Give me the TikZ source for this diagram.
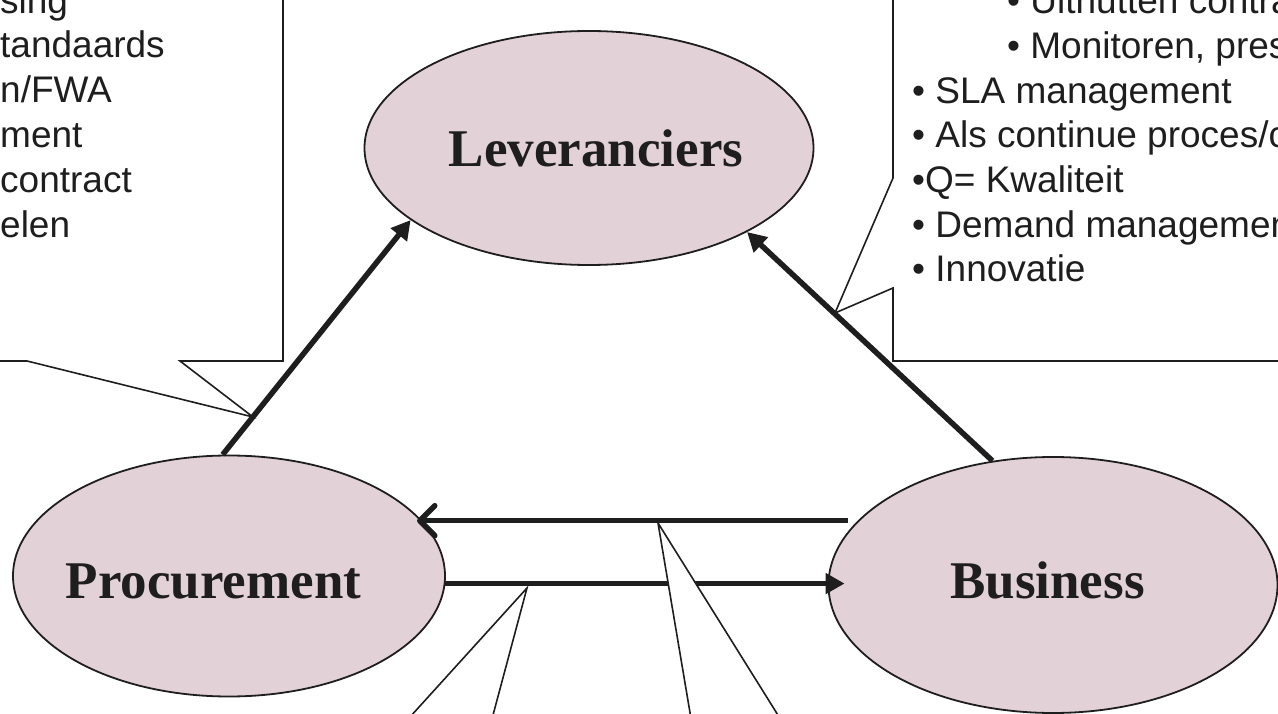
\documentclass[tikz,border=0pt]{standalone}
\usepackage{fontspec}
\setmainfont{Liberation Sans}
\newfontfamily\serifbold{Liberation Serif}
\usetikzlibrary{shapes.geometric,arrows.meta,calc}
\definecolor{ink}{RGB}{30,30,30}
\definecolor{ellfill}{RGB}{227,209,216}
\begin{document}
\begin{tikzpicture}[x=1pt,y=-1pt,
  ell/.style={ellipse, draw=ink, line width=1.8pt, fill=ellfill, inner sep=0pt},
  lbl/.style={font=\serifbold\bfseries\fontsize{53}{60}\selectfont, text=ink, inner sep=0pt, anchor=base},
  arr/.style={draw=ink, line width=5.5pt, -{Triangle[length=19pt,width=20pt]}},
  arrb/.style={draw=ink, line width=5.5pt, -{Straight Barb[length=15pt,width=30pt,round]}},
  callout/.style={draw=ink, fill=white, line width=1.6pt, line join=miter},
  ctext/.style={font=\fontsize{37}{44.7}\selectfont, text=ink, inner sep=0pt, anchor=base west}
]
\useasboundingbox (0,0) rectangle (1278,714);
\clip (0,0) rectangle (1278,714);

% ellipses
\node[ell, minimum width=449pt, minimum height=234pt] (lev) at (589,148) {};
\node[ell, minimum width=432pt, minimum height=241pt] (proc) at (229,576) {};
\node[ell, minimum width=449pt, minimum height=256pt] (bus) at (1053,585) {};
\node[lbl] (levt) at (596,167) {Leveranciers};
\node[lbl] (proct) at (213.5,598) {Procurement};
\node[lbl] (bust) at (1047.5,598) {Business};

% connectors
\draw[arr] (proc.93) -- (lev.202);
\draw[arr] (bus.116) -- (lev.332);
\draw[arrb, shorten <=-20pt, shorten >=-5pt] (proc.16 -| bus.west) -- (proc.16);
\draw[arr, shorten >=-17pt] (proc.-2.4) -- (proc.-2.4 -| bus.west);

% callouts
\draw[callout] (-400,-60) -- (283,-60) -- (283,361) -- (180,361) -- (253,417) -- (27,361) -- (-400,361) -- cycle;
\draw[callout] (893,-60) -- (893,178) -- (835,313) -- (893,288) -- (893,361) -- (1500,361) -- (1500,-60) -- cycle;
\draw[callout] (371,760) -- (527,588) -- (481,760) -- cycle;
\draw[callout] (698,760) -- (658,523) -- (806,760) -- cycle;

% left callout text
\node[ctext] (l1) at (0,13.5) {sing};
\node[ctext] (l2) at (0,58) {tandaards};
\node[ctext] (l3) at (0,103) {n/FWA};
\node[ctext] (l4) at (0,148) {ment};
\node[ctext] (l5) at (0,193) {contract};
\node[ctext] (l6) at (0,237.5) {elen};

% right callout text
\node[ctext] (r1) at (1007,14) {• Uitnutten contra};
\node[ctext] (r2) at (1007,59) {• Monitoren, pres};
\node[ctext] (r3) at (912,103.5) {• SLA management};
\node[ctext] (r4) at (912,148) {• Als continue proces/c};
\node[ctext] (r5) at (912,193) {•Q= Kwaliteit};
\node[ctext] (r6) at (912,237.5) {• Demand managemen};
\node[ctext] (r7) at (912,282) {• Innovatie};
\end{tikzpicture}
\end{document}
